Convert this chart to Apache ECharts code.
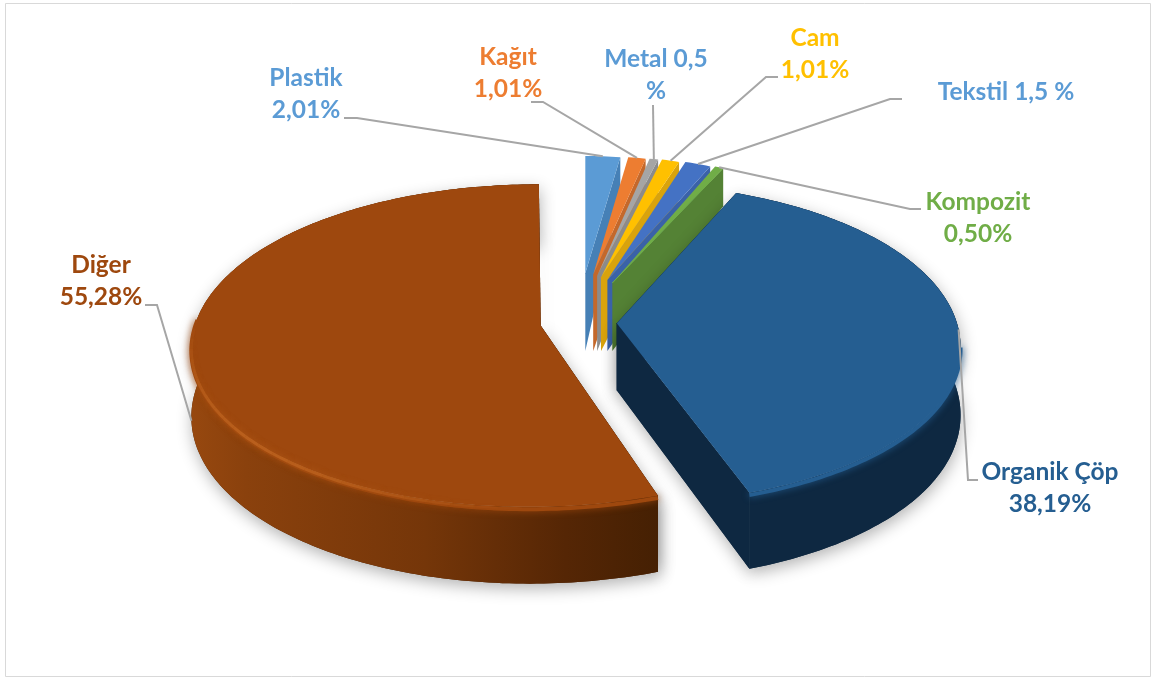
<!DOCTYPE html>
<html>
<head>
<meta charset="utf-8">
<style>html,body{margin:0;padding:0;background:#fff}#chart{width:1153px;height:678px}</style>
<script src="https://cdn.jsdelivr.net/npm/echarts@6/dist/echarts.min.js"></script>
</head>
<body>
<div id="chart"></div>
<script>
// Waste composition, clockwise from twelve o'clock.
const categories = ['Plastik', 'Kağıt', 'Metal', 'Cam', 'Tekstil', 'Kompozit', 'Organik Çöp', 'Diğer'];
const shares = [2.01, 1.01, 0.5, 1.01, 1.5, 0.5, 38.19, 55.28];
const labelTexts = ['Plastik\n2,01%', 'Kağıt\n1,01%', 'Metal 0,5\n%', 'Cam\n1,01%', 'Tekstil 1,5 %', 'Kompozit\n0,50%', 'Organik Çöp\n38,19%', 'Diğer\n55,28%'];

// Colours per slice: top face, cut face, label.
const topColors = ['#5b9bd5', '#ed7d31', '#a5a5a5', '#ffc000', '#4472c4', '#70ad47', '#255e91', '#9e480e'];
const cutColors = ['#4680b6', '#c4682b', '#8b8b8b', '#d9a30c', '#3a62a8', '#548235', '#0e2841', '#4a2103'];
const labelColors = ['#5b9bd5', '#ed7d31', '#5b9bd5', '#ffc000', '#5b9bd5', '#70ad47', '#255e91', '#9e480e'];

// Label anchors (text centre) and leader elbows, in page pixels.
const labelAnchors = [[306, 94], [508, 73], [656, 75], [815, 54], [1006, 92], [978, 218], [1050, 488], [101, 281]];
const leaderElbows = [
  [[344, 118], [357, 118]], [[531, 102], [543, 102]], [[653, 105]], [[778, 77], [766, 77]],
  [[902, 99], [890, 99]], [[921, 209], [910, 209]], [[978, 480], [968, 480]], [[145, 305], [157, 305]]
];
// How far down the rim wall each leader lands (0 top edge, 1 bottom edge).
const leaderDepth = [0, 0, 0, 0, 0, 0, 0, 1];

// Projection of the two big slices; lean and trim are small shape corrections per slice.
const big = { cx: 578.5, cy: 322.5, R: 345, Rt: 158, p: 0.125, H: 67, explode: 0.111 };
const leanBySlice = { 6: 0, 7: 6 };
const trimBySlice = { 6: 5, 7: 0 };
// The narrow slices sit in their own tighter fan behind them.
const fan = { ax0: 580, axK: 84, ay0: 273, ayK: 130, rx: 278, ry0: 303, ryK: 147, apexBottom: 351, rimWall: 38 };

const total = shares.reduce((a, b) => a + b, 0);
const startAngles = [];
shares.reduce((acc, s, i) => { startAngles[i] = acc; return acc + s / total * Math.PI * 2; }, 0);
const FAN_COUNT = 6;

function project(u, v, h) {
  const k = 1 / (1 - big.p * v);
  return [big.cx + big.R * u * k, big.cy + big.Rt * v * k + big.H * h * k];
}
function arcAngles(a0, a1) {
  const n = Math.max(2, Math.ceil((a1 - a0) / (Math.PI / 180)) + 1);
  return Array.from({ length: n }, (_, i) => a0 + (a1 - a0) * i / (n - 1));
}
function bigRim(i, a, h, scale) {
  const s = scale == null ? 1 : scale;
  const mid = startAngles[i] + shares[i] / total * Math.PI;
  const p = project(big.explode * Math.sin(mid) + s * Math.sin(a), -big.explode * Math.cos(mid) - s * Math.cos(a), h);
  const c = s * Math.cos(a), sn = s * Math.sin(a);
  p[0] -= leanBySlice[i] * c * c + trimBySlice[i] * Math.pow(sn, 4);
  return p;
}
function bigApex(i, h) { return bigRim(i, 0, h, 0); }
function fanApex(i, h) {
  const mid = startAngles[i] + shares[i] / total * Math.PI;
  const x = fan.ax0 + fan.axK * Math.sin(mid);
  const y = fan.ay0 + fan.ayK * (1 - Math.cos(mid));
  return [x, y + h * (fan.apexBottom - y)];
}
function fanRim(i, a, h) {
  const top = fanApex(i, 0);
  return [top[0] + fan.rx * Math.sin(a), fan.ry0 - fan.ryK * Math.cos(a) + h * fan.rimWall];
}

function drawFanSlice(i, a0, a1) {
  const children = [];
  const cut = [fanApex(i, 0), fanRim(i, a1, 0), fanRim(i, a1, 1), fanApex(i, 1)];
  const top = [fanApex(i, 0)].concat(arcAngles(a0, a1).map(a => fanRim(i, a, 0)));
  if (i === 0) {
    children.push({ type: 'polygon', shape: { points: [fanApex(i, 0), fanRim(i, a0, 0.9), fanApex(i, 1)] },
      style: { fill: cutColors[i], shadowBlur: 14, shadowColor: 'rgba(0,0,0,0.28)', shadowOffsetX: -3, shadowOffsetY: 2 } });
  }
  children.push({ type: 'polygon', shape: { points: cut }, style: { fill: cutColors[i] } });
  children.push({ type: 'polygon', shape: { points: top }, style: { fill: topColors[i] } });
  if (i === 5) {
    // The Kompozit top is a thin sliver over a much darker cut face.
    children.push({ type: 'polyline', shape: { points: [fanApex(i, 0), fanRim(i, a1, 0)] },
      style: { stroke: topColors[i], lineWidth: 1, fill: null } });
  }
  return children;
}

// Rim highlight built from short runs whose opacity rises and falls, so it has no hard ends.
function rimHighlight(i, from, to) {
  const runs = 26;
  return Array.from({ length: runs }, (_, r) => {
    const t0 = from + (to - from) * r / runs;
    const t1 = from + (to - from) * (r + 1) / runs;
    const alpha = 0.8 * Math.sin(Math.PI * (r + 0.5) / runs);
    const color = 'rgba(190,100,32,' + alpha.toFixed(3) + ')';
    return { type: 'polyline', shape: { points: arcAngles(t0, t1).map(a => bigRim(i, a, 0.015)) },
      style: { stroke: color, lineWidth: 3, fill: null, shadowBlur: 6, shadowColor: color } };
  });
}

function drawBigSlice(i, a0, a1) {
  const angles = arcAngles(a0, a1);
  const topEdge = angles.map(a => bigRim(i, a, 0));
  const bottomEdge = angles.map(a => bigRim(i, a, 1));
  const wall = topEdge.concat(bottomEdge.slice().reverse());
  const cutA = [bigApex(i, 0), bigRim(i, a0, 0), bigRim(i, a0, 1), bigApex(i, 1)];
  const cutB = [bigApex(i, 0), bigRim(i, a1, 0), bigRim(i, a1, 1), bigApex(i, 1)];
  const isOrganic = categories[i] === 'Organik Çöp';
  const wallFill = isOrganic ? '#0e2841' : new echarts.graphic.LinearGradient(190, 0, 660, 0, [
    { offset: 0, color: '#97480f' }, { offset: 0.12, color: '#8a410d' }, { offset: 0.5, color: '#753609' },
    { offset: 0.8, color: '#552605' }, { offset: 1, color: '#452003' }
  ], true);
  const drop = { shadowBlur: 16, shadowColor: 'rgba(0,0,0,0.30)', shadowOffsetX: 1, shadowOffsetY: 5 };

  // Front visible stretch of the rim, where wall meets top in a soft bevel.
  const frontFrom = isOrganic ? a0 + 1.3 : a0;
  const frontTo = isOrganic ? a1 : a0 + 1.95;
  const bevelAngles = arcAngles(frontFrom, frontTo);

  const children = [
    { type: 'polygon', shape: { points: cutA }, style: Object.assign({ fill: cutColors[i] }, drop) },
    { type: 'polygon', shape: { points: cutB }, style: Object.assign({ fill: cutColors[i] }, drop) },
    { type: 'polygon', shape: { points: wall }, style: Object.assign({ fill: cutColors[i] }, drop) },
    { type: 'polygon', shape: { points: cutA }, style: { fill: cutColors[i] } },
    { type: 'polygon', shape: { points: cutB }, style: { fill: cutColors[i] } },
    { type: 'polygon', shape: { points: wall }, style: { fill: wallFill } },
    { type: 'polyline', shape: { points: bevelAngles.map(a => bigRim(i, a, 0.03)) },
      style: { stroke: topColors[i], lineWidth: 4, fill: null, shadowBlur: 7, shadowColor: topColors[i] } },
    { type: 'polygon', shape: { points: [bigApex(i, 0)].concat(topEdge) }, style: { fill: topColors[i] } }
  ];
  return isOrganic ? children : children.concat(rimHighlight(i, a0 + 0.35, a0 + 1.95));
}

function rimPointForLeader(i) {
  const a = startAngles[i] + shares[i] / total * Math.PI;
  return i < FAN_COUNT ? fanRim(i, a, leaderDepth[i]) : bigRim(i, a, leaderDepth[i]);
}

function renderSlice(params, api) {
  const i = params.dataIndex;
  const a0 = startAngles[i];
  const a1 = a0 + api.value(0) / total * Math.PI * 2;
  return { type: 'group', children: i < FAN_COUNT ? drawFanSlice(i, a0, a1) : drawBigSlice(i, a0, a1) };
}

function renderLabel(params) {
  const i = params.dataIndex;
  const path = leaderElbows[i].concat([rimPointForLeader(i)]);
  return { type: 'group', children: [
    { type: 'polyline', shape: { points: path }, style: { stroke: '#a6a6a6', lineWidth: 2, fill: null } },
    { type: 'text', style: { text: labelTexts[i], x: labelAnchors[i][0], y: labelAnchors[i][1], fill: labelColors[i],
        font: 'bold 24.5px Lato', lineHeight: 32, textAlign: 'center', textVerticalAlign: 'middle' } }
  ] };
}

const chart = echarts.init(document.getElementById('chart'), null, { renderer: 'canvas' });
chart.setOption({
  animation: false,
  backgroundColor: '#ffffff',
  graphic: [{ type: 'rect', z: 0, silent: true, shape: { x: 5.5, y: 3.5, width: 1145, height: 673 },
    style: { fill: null, stroke: '#d9d9d9', lineWidth: 1 } }],
  series: [
    { type: 'custom', coordinateSystem: 'none', silent: true, z: 2,
      data: shares.map((s, i) => ({ name: categories[i], value: [s] })), renderItem: renderSlice },
    { type: 'custom', coordinateSystem: 'none', silent: true, z: 3,
      data: shares.map((s, i) => ({ name: categories[i], value: [s] })), renderItem: renderLabel }
  ]
});
</script>
</body>
</html>
